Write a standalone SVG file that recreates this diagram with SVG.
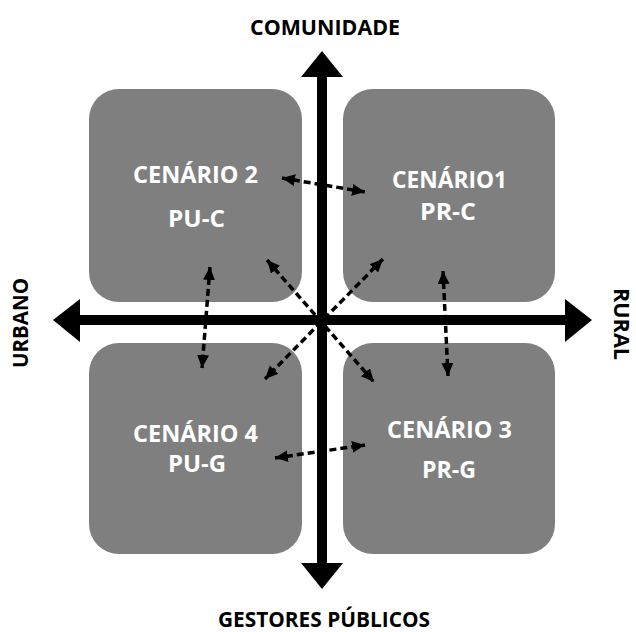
<svg xmlns="http://www.w3.org/2000/svg" width="636" height="632" viewBox="0 0 636 632">
<style>
.box{fill:#7f7f7f}
.bt{font-family:"Open Sans","Liberation Sans",sans-serif;font-weight:bold;font-size:23px;fill:#ffffff;text-anchor:middle}
.ax{font-family:"Open Sans","Liberation Sans",sans-serif;font-weight:bold;font-size:21px;fill:#000000;text-anchor:middle}
.axis{fill:#000000}
.dash{stroke:#000;stroke-width:3.5;stroke-dasharray:7 4;fill:none;marker-start:url(#ah);marker-end:url(#ah)}
</style>
<defs>
<marker id="ah" markerUnits="userSpaceOnUse" markerWidth="14" markerHeight="13" refX="13" refY="6" orient="auto-start-reverse" viewBox="0 0 14 13">
<path d="M0,0 L13,6 L0,12 Z" fill="#000"/>
</marker>
</defs>
<rect width="636" height="632" fill="#ffffff"/>
<g id="cenario2">
<rect class="box" x="89" y="89" width="213" height="213" rx="30"/>
<text class="bt" x="195.5" y="183" textLength="125" lengthAdjust="spacingAndGlyphs">CENÁRIO 2</text>
<text class="bt" x="196.5" y="227" textLength="57" lengthAdjust="spacingAndGlyphs">PU-C</text>
</g>
<g id="cenario1">
<rect class="box" x="343" y="89" width="212" height="213" rx="30"/>
<text class="bt" x="449.5" y="188" textLength="115" lengthAdjust="spacingAndGlyphs">CENÁRIO1</text>
<text class="bt" x="448" y="220" textLength="56" lengthAdjust="spacingAndGlyphs">PR-C</text>
</g>
<g id="cenario4">
<rect class="box" x="89" y="343" width="213" height="211" rx="30"/>
<text class="bt" x="195.5" y="442" textLength="125" lengthAdjust="spacingAndGlyphs">CENÁRIO 4</text>
<text class="bt" x="197" y="472" textLength="58" lengthAdjust="spacingAndGlyphs">PU-G</text>
</g>
<g id="cenario3">
<rect class="box" x="343" y="343" width="212" height="211" rx="30"/>
<text class="bt" x="449.5" y="438" textLength="125" lengthAdjust="spacingAndGlyphs">CENÁRIO 3</text>
<text class="bt" x="449" y="478" textLength="54" lengthAdjust="spacingAndGlyphs">PR-G</text>
</g>
<g id="axes">
<rect class="axis" x="317" y="76" width="10" height="488"/>
<rect class="axis" x="79" y="315" width="487" height="10"/>
<path class="axis" d="M322,51 L343,77 L301,77 Z"/>
<path class="axis" d="M322,589 L343,563 L301,563 Z"/>
<path class="axis" d="M53,320 L80,299 L80,342 Z"/>
<path class="axis" d="M592,320 L565,299 L565,342 Z"/>
</g>
<g id="labels">
<text class="ax" x="325" y="35" textLength="150" lengthAdjust="spacingAndGlyphs">COMUNIDADE</text>
<text class="ax" x="324" y="627" textLength="212" lengthAdjust="spacingAndGlyphs">GESTORES PÚBLICOS</text>
<text class="ax" transform="translate(28,323) rotate(-90)" x="0" y="0" textLength="90" lengthAdjust="spacingAndGlyphs">URBANO</text>
<text class="ax" transform="translate(614,324) rotate(90)" x="0" y="0" font-size="20" textLength="72" lengthAdjust="spacingAndGlyphs">RURAL</text>
</g>
<g id="connectors">
<line class="dash" x1="282" y1="178" x2="365" y2="192"/>
<line class="dash" x1="210" y1="267" x2="202" y2="368"/>
<line class="dash" x1="267" y1="260" x2="374" y2="382"/>
<line class="dash" x1="383" y1="259" x2="265" y2="379"/>
<line class="dash" x1="443" y1="271" x2="448" y2="376"/>
<line class="dash" x1="275" y1="458" x2="365" y2="445"/>
</g>
</svg>
